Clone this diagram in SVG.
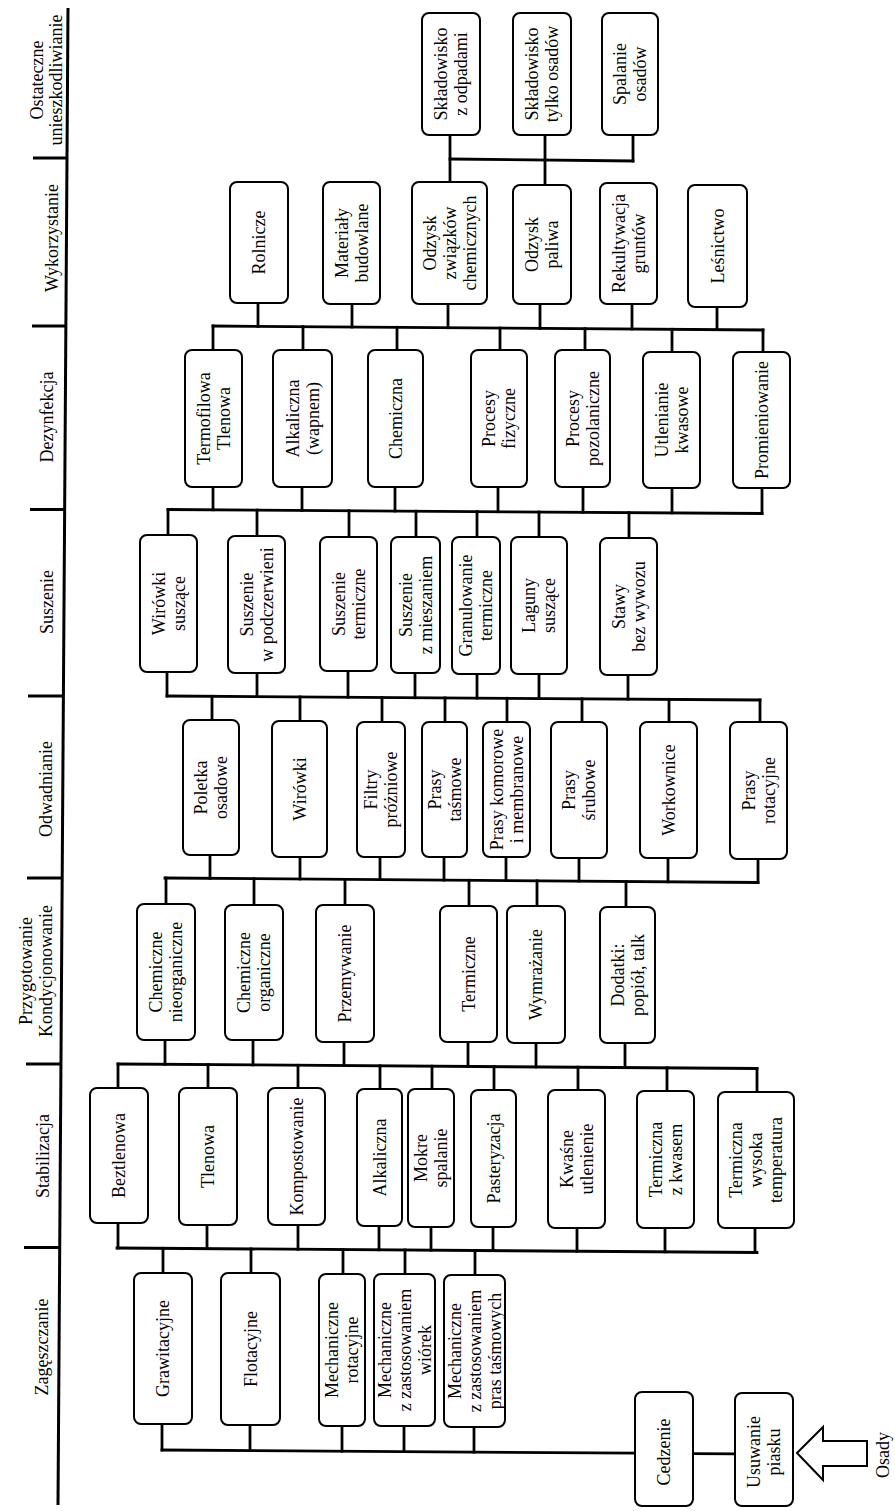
<svg xmlns="http://www.w3.org/2000/svg" width="895" height="1511" viewBox="0 0 895 1511">
<style>
.box{fill:#fff;stroke:#000;stroke-width:2}
.t{font-family:"Liberation Serif","Times New Roman",serif;font-size:18px;text-anchor:middle;fill:#000}
.c line{stroke:#000;stroke-width:2.8;stroke-linecap:square}
.ax line{stroke:#000;stroke-width:3;stroke-linecap:butt}
.arrow{fill:#fff;stroke:#000;stroke-width:2;stroke-linejoin:miter}
</style>
<rect width="895" height="1511" fill="#fff"/>
<g id="axis" class="ax">
<line x1="68" y1="8" x2="58" y2="1505"/>
<line x1="33" y1="158" x2="67" y2="158"/>
<line x1="32" y1="326" x2="66" y2="326"/>
<line x1="30" y1="509.5" x2="65" y2="509.5"/>
<line x1="28" y1="696" x2="63.5" y2="696"/>
<line x1="27" y1="878" x2="62.5" y2="878"/>
<line x1="26" y1="1064" x2="61" y2="1064"/>
<line x1="24" y1="1247.5" x2="60" y2="1247.5"/>
</g>
<g id="headers" class="t">
<text transform="translate(43 80) rotate(-90)"><tspan x="0" y="0">Ostateczne</tspan><tspan x="0" y="19">unieszkodliwianie</tspan></text>
<text transform="translate(58 238) rotate(-90)">Wykorzystanie</text>
<text transform="translate(53 417) rotate(-90)">Dezynfekcja</text>
<text transform="translate(53 602) rotate(-90)">Suszenie</text>
<text transform="translate(52 789) rotate(-90)">Odwadnianie</text>
<text transform="translate(32 971) rotate(-90)"><tspan x="0" y="0">Przygotowanie</tspan><tspan x="0" y="20">Kondycjonowanie</tspan></text>
<text transform="translate(49 1156) rotate(-90)">Stabilizacja</text>
<text transform="translate(48 1347) rotate(-90)">Zagęszczanie</text>
</g>
<g id="connectors" class="c">
<line x1="450" y1="159" x2="633" y2="161"/>
<line x1="450" y1="135" x2="450" y2="182"/>
<line x1="545" y1="135" x2="545" y2="185"/>
<line x1="633" y1="135" x2="633" y2="161"/>
<line x1="213" y1="326" x2="763" y2="330"/>
<line x1="258" y1="303" x2="258" y2="326.3"/>
<line x1="352" y1="304" x2="352" y2="327"/>
<line x1="448" y1="304" x2="448" y2="327.7"/>
<line x1="540" y1="304" x2="540" y2="328.4"/>
<line x1="632" y1="304" x2="632" y2="329"/>
<line x1="717" y1="307" x2="717" y2="329.6"/>
<line x1="213" y1="326" x2="213" y2="350"/>
<line x1="303" y1="326.6" x2="303" y2="350"/>
<line x1="397" y1="327.3" x2="397" y2="350"/>
<line x1="500" y1="328.1" x2="500" y2="350"/>
<line x1="585" y1="328.7" x2="585" y2="350"/>
<line x1="672" y1="329.3" x2="672" y2="352"/>
<line x1="763" y1="330" x2="763" y2="352"/>
<line x1="168" y1="509.5" x2="762" y2="513.5"/>
<line x1="213" y1="487" x2="213" y2="509.8"/>
<line x1="302" y1="487" x2="302" y2="510.4"/>
<line x1="395" y1="487" x2="395" y2="511"/>
<line x1="498" y1="487" x2="498" y2="511.7"/>
<line x1="583" y1="487" x2="583" y2="512.3"/>
<line x1="672" y1="488" x2="672" y2="512.9"/>
<line x1="762" y1="488" x2="762" y2="513.5"/>
<line x1="168" y1="509.5" x2="168" y2="535"/>
<line x1="257" y1="510.1" x2="257" y2="536"/>
<line x1="349" y1="510.7" x2="349" y2="537"/>
<line x1="416" y1="511.2" x2="416" y2="537"/>
<line x1="477" y1="511.6" x2="477" y2="537"/>
<line x1="539" y1="512" x2="539" y2="537"/>
<line x1="629" y1="512.6" x2="629" y2="538"/>
<line x1="167" y1="696" x2="760" y2="700"/>
<line x1="167" y1="672" x2="167" y2="696"/>
<line x1="257" y1="673" x2="257" y2="696.6"/>
<line x1="348" y1="671" x2="348" y2="697.2"/>
<line x1="415" y1="673" x2="415" y2="697.7"/>
<line x1="477" y1="674" x2="477" y2="698.1"/>
<line x1="539" y1="674" x2="539" y2="698.5"/>
<line x1="628" y1="675" x2="628" y2="699.1"/>
<line x1="212" y1="696.3" x2="212" y2="720"/>
<line x1="300" y1="696.9" x2="300" y2="721"/>
<line x1="382" y1="697.5" x2="382" y2="722"/>
<line x1="445" y1="697.9" x2="445" y2="722"/>
<line x1="507" y1="698.3" x2="507" y2="722"/>
<line x1="582" y1="698.8" x2="582" y2="722"/>
<line x1="669" y1="699.4" x2="669" y2="722"/>
<line x1="760" y1="700" x2="760" y2="722"/>
<line x1="165" y1="878" x2="758" y2="882.5"/>
<line x1="210" y1="855" x2="210" y2="878.3"/>
<line x1="300" y1="857" x2="300" y2="879"/>
<line x1="380" y1="857" x2="380" y2="879.6"/>
<line x1="444" y1="857" x2="444" y2="880.1"/>
<line x1="506" y1="857" x2="506" y2="880.6"/>
<line x1="579" y1="858" x2="579" y2="881.1"/>
<line x1="668" y1="858" x2="668" y2="881.8"/>
<line x1="758" y1="859" x2="758" y2="882.5"/>
<line x1="166" y1="878" x2="166" y2="904"/>
<line x1="254" y1="878.7" x2="254" y2="905"/>
<line x1="345" y1="879.4" x2="345" y2="905"/>
<line x1="469" y1="880.3" x2="469" y2="906"/>
<line x1="537" y1="880.8" x2="537" y2="906"/>
<line x1="626" y1="881.5" x2="626" y2="907"/>
<line x1="118" y1="1064" x2="757" y2="1068.5"/>
<line x1="165" y1="1040" x2="165" y2="1064.3"/>
<line x1="253" y1="1040" x2="253" y2="1064.9"/>
<line x1="344" y1="1042" x2="344" y2="1065.6"/>
<line x1="468" y1="1042" x2="468" y2="1066.5"/>
<line x1="536" y1="1043" x2="536" y2="1066.9"/>
<line x1="625" y1="1043" x2="625" y2="1067.5"/>
<line x1="118" y1="1064" x2="118" y2="1088"/>
<line x1="208" y1="1064.6" x2="208" y2="1088"/>
<line x1="298" y1="1065.3" x2="298" y2="1088"/>
<line x1="380" y1="1065.8" x2="380" y2="1089"/>
<line x1="432" y1="1066.2" x2="432" y2="1089"/>
<line x1="494" y1="1066.6" x2="494" y2="1090"/>
<line x1="578" y1="1067.2" x2="578" y2="1090"/>
<line x1="667" y1="1067.8" x2="667" y2="1091"/>
<line x1="757" y1="1068.5" x2="757" y2="1092"/>
<line x1="117" y1="1248" x2="757" y2="1252.5"/>
<line x1="118" y1="1223" x2="118" y2="1248"/>
<line x1="207" y1="1225" x2="207" y2="1248.6"/>
<line x1="298" y1="1225" x2="298" y2="1249.3"/>
<line x1="379" y1="1226" x2="379" y2="1249.8"/>
<line x1="431" y1="1227" x2="431" y2="1250.2"/>
<line x1="493" y1="1227" x2="493" y2="1250.6"/>
<line x1="577" y1="1228" x2="577" y2="1251.2"/>
<line x1="665" y1="1228" x2="665" y2="1251.8"/>
<line x1="755" y1="1228" x2="755" y2="1252.5"/>
<line x1="163" y1="1248.3" x2="163" y2="1273"/>
<line x1="251" y1="1248.9" x2="251" y2="1273"/>
<line x1="343" y1="1249.6" x2="343" y2="1274"/>
<line x1="405" y1="1250" x2="405" y2="1274"/>
<line x1="475" y1="1250.5" x2="475" y2="1275"/>
<line x1="162" y1="1450" x2="635" y2="1453.2"/>
<line x1="693" y1="1453.6" x2="735" y2="1453.9"/>
<line x1="162" y1="1424" x2="162" y2="1450"/>
<line x1="250" y1="1425" x2="250" y2="1450.6"/>
<line x1="342" y1="1426" x2="342" y2="1451.2"/>
<line x1="404" y1="1426" x2="404" y2="1451.6"/>
<line x1="474" y1="1427" x2="474" y2="1452.1"/>
</g>
<g id="nodes">
<g id="o1"><rect class="box" x="422" y="13" width="58" height="122" rx="7"/><text class="t" transform="translate(451 74) rotate(-90)"><tspan x="0" y="-3.75">Składowisko</tspan><tspan x="0" y="16.25">z odpadami</tspan></text></g>
<g id="o2"><rect class="box" x="513" y="13" width="58" height="122" rx="7"/><text class="t" transform="translate(542 74) rotate(-90)"><tspan x="0" y="-3.75">Składowisko</tspan><tspan x="0" y="16.25">tylko osadów</tspan></text></g>
<g id="o3"><rect class="box" x="602" y="13" width="56" height="122" rx="7"/><text class="t" transform="translate(630 74) rotate(-90)"><tspan x="0" y="-3.75">Spalanie</tspan><tspan x="0" y="16.25">osadów</tspan></text></g>

<g id="w1"><rect class="box" x="230" y="182" width="58" height="121" rx="7"/><text class="t" transform="translate(259 242.5) rotate(-90)"><tspan x="0" y="6.25">Rolnicze</tspan></text></g>
<g id="w2"><rect class="box" x="323" y="182" width="57" height="122" rx="7"/><text class="t" transform="translate(351.5 243) rotate(-90)"><tspan x="0" y="-3.75">Materiały</tspan><tspan x="0" y="16.25">budowlane</tspan></text></g>
<g id="w3"><rect class="box" x="412" y="182" width="75" height="122" rx="7"/><text class="t" transform="translate(449.5 243) rotate(-90)"><tspan x="0" y="-13.75">Odzysk</tspan><tspan x="0" y="6.25">związków</tspan><tspan x="0" y="26.25">chemicznych</tspan></text></g>
<g id="w4"><rect class="box" x="513" y="185" width="58" height="119" rx="7"/><text class="t" transform="translate(542 244.5) rotate(-90)"><tspan x="0" y="-3.75">Odzysk</tspan><tspan x="0" y="16.25">paliwa</tspan></text></g>
<g id="w5"><rect class="box" x="600" y="183" width="57" height="121" rx="7"/><text class="t" transform="translate(628.5 243.5) rotate(-90)"><tspan x="0" y="-3.75">Rekultywacja</tspan><tspan x="0" y="16.25">gruntów</tspan></text></g>
<g id="w6"><rect class="box" x="688" y="185" width="59" height="122" rx="7"/><text class="t" transform="translate(717.5 246) rotate(-90)"><tspan x="0" y="6.25">Leśnictwo</tspan></text></g>

<g id="d1"><rect class="box" x="185" y="350" width="57" height="137" rx="7"/><text class="t" transform="translate(213.5 418.5) rotate(-90)"><tspan x="0" y="-3.75">Termofilowa</tspan><tspan x="0" y="16.25">Tlenowa</tspan></text></g>
<g id="d2"><rect class="box" x="273" y="350" width="59" height="137" rx="7"/><text class="t" transform="translate(302.5 418.5) rotate(-90)"><tspan x="0" y="-3.75">Alkaliczna</tspan><tspan x="0" y="16.25">(wapnem)</tspan></text></g>
<g id="d3"><rect class="box" x="368" y="350" width="55" height="137" rx="7"/><text class="t" transform="translate(395.5 418.5) rotate(-90)"><tspan x="0" y="6.25">Chemiczna</tspan></text></g>
<g id="d4"><rect class="box" x="471" y="350" width="56" height="137" rx="7"/><text class="t" transform="translate(499 418.5) rotate(-90)"><tspan x="0" y="-3.75">Procesy</tspan><tspan x="0" y="16.25">fizyczne</tspan></text></g>
<g id="d5"><rect class="box" x="555" y="350" width="55" height="137" rx="7"/><text class="t" transform="translate(582.5 418.5) rotate(-90)"><tspan x="0" y="-3.75">Procesy</tspan><tspan x="0" y="16.25">pozolaniczne</tspan></text></g>
<g id="d6"><rect class="box" x="643" y="352" width="57" height="136" rx="7"/><text class="t" transform="translate(671.5 420) rotate(-90)"><tspan x="0" y="-3.75">Utlenianie</tspan><tspan x="0" y="16.25">kwasowe</tspan></text></g>
<g id="d7"><rect class="box" x="733" y="352" width="57" height="136" rx="7"/><text class="t" transform="translate(761.5 420) rotate(-90)"><tspan x="0" y="6.25">Promieniowanie</tspan></text></g>

<g id="s1"><rect class="box" x="140" y="535" width="57" height="137" rx="7"/><text class="t" transform="translate(168.5 603.5) rotate(-90)"><tspan x="0" y="-3.75">Wirówki</tspan><tspan x="0" y="16.25">suszące</tspan></text></g>
<g id="s2"><rect class="box" x="228" y="536" width="57" height="137" rx="7"/><text class="t" transform="translate(256.5 604.5) rotate(-90)"><tspan x="0" y="-3.75">Suszenie</tspan><tspan x="0" y="16.25">w podczerwieni</tspan></text></g>
<g id="s3"><rect class="box" x="320" y="537" width="57" height="134" rx="7"/><text class="t" transform="translate(348.5 604) rotate(-90)"><tspan x="0" y="-3.75">Suszenie</tspan><tspan x="0" y="16.25">termiczne</tspan></text></g>
<g id="s4"><rect class="box" x="391" y="537" width="49" height="136" rx="7"/><text class="t" transform="translate(415.5 605) rotate(-90)"><tspan x="0" y="-3.75">Suszenie</tspan><tspan x="0" y="16.25">z mieszaniem</tspan></text></g>
<g id="s5"><rect class="box" x="452" y="537" width="48" height="137" rx="7"/><text class="t" transform="translate(476 605.5) rotate(-90)"><tspan x="0" y="-3.75">Granulowanie</tspan><tspan x="0" y="16.25">termiczne</tspan></text></g>
<g id="s6"><rect class="box" x="511" y="537" width="56" height="137" rx="7"/><text class="t" transform="translate(539 605.5) rotate(-90)"><tspan x="0" y="-3.75">Laguny</tspan><tspan x="0" y="16.25">suszące</tspan></text></g>
<g id="s7"><rect class="box" x="600" y="538" width="57" height="137" rx="7"/><text class="t" transform="translate(628.5 606.5) rotate(-90)"><tspan x="0" y="-3.75">Stawy</tspan><tspan x="0" y="16.25">bez wywozu</tspan></text></g>

<g id="a1"><rect class="box" x="183" y="720" width="56" height="135" rx="7"/><text class="t" transform="translate(211 787.5) rotate(-90)"><tspan x="0" y="-3.75">Poletka</tspan><tspan x="0" y="16.25">osadowe</tspan></text></g>
<g id="a2"><rect class="box" x="272" y="721" width="55" height="136" rx="7"/><text class="t" transform="translate(299.5 789) rotate(-90)"><tspan x="0" y="6.25">Wirówki</tspan></text></g>
<g id="a3"><rect class="box" x="357" y="722" width="48" height="135" rx="7"/><text class="t" transform="translate(381 789.5) rotate(-90)"><tspan x="0" y="-3.75">Filtry</tspan><tspan x="0" y="16.25">próżniowe</tspan></text></g>
<g id="a4"><rect class="box" x="422" y="722" width="45" height="135" rx="7"/><text class="t" transform="translate(444.5 789.5) rotate(-90)"><tspan x="0" y="-3.75">Prasy</tspan><tspan x="0" y="16.25">taśmowe</tspan></text></g>
<g id="a5"><rect class="box" x="483" y="722" width="47" height="135" rx="7"/><text class="t" transform="translate(506.5 789.5) rotate(-90)"><tspan x="0" y="-3.75">Prasy komorowe</tspan><tspan x="0" y="16.25">i membranowe</tspan></text></g>
<g id="a6"><rect class="box" x="551" y="722" width="56" height="136" rx="7"/><text class="t" transform="translate(579 790) rotate(-90)"><tspan x="0" y="-3.75">Prasy</tspan><tspan x="0" y="16.25">śrubowe</tspan></text></g>
<g id="a7"><rect class="box" x="640" y="722" width="57" height="136" rx="7"/><text class="t" transform="translate(668.5 790) rotate(-90)"><tspan x="0" y="6.25">Workownice</tspan></text></g>
<g id="a8"><rect class="box" x="730" y="722" width="57" height="137" rx="7"/><text class="t" transform="translate(758.5 790.5) rotate(-90)"><tspan x="0" y="-3.75">Prasy</tspan><tspan x="0" y="16.25">rotacyjne</tspan></text></g>

<g id="p1"><rect class="box" x="137" y="904" width="58" height="136" rx="7"/><text class="t" transform="translate(166 972) rotate(-90)"><tspan x="0" y="-3.75">Chemiczne</tspan><tspan x="0" y="16.25">nieorganiczne</tspan></text></g>
<g id="p2"><rect class="box" x="225" y="905" width="58" height="135" rx="7"/><text class="t" transform="translate(254 972.5) rotate(-90)"><tspan x="0" y="-3.75">Chemiczne</tspan><tspan x="0" y="16.25">organiczne</tspan></text></g>
<g id="p3"><rect class="box" x="316" y="905" width="58" height="137" rx="7"/><text class="t" transform="translate(345 973.5) rotate(-90)"><tspan x="0" y="6.25">Przemywanie</tspan></text></g>
<g id="p4"><rect class="box" x="440" y="906" width="57" height="136" rx="7"/><text class="t" transform="translate(468.5 974) rotate(-90)"><tspan x="0" y="6.25">Termiczne</tspan></text></g>
<g id="p5"><rect class="box" x="507" y="906" width="58" height="137" rx="7"/><text class="t" transform="translate(536 974.5) rotate(-90)"><tspan x="0" y="6.25">Wymrażanie</tspan></text></g>
<g id="p6"><rect class="box" x="600" y="907" width="55" height="136" rx="7"/><text class="t" transform="translate(627.5 975) rotate(-90)"><tspan x="0" y="-3.75">Dodatki:</tspan><tspan x="0" y="16.25">popiół, talk</tspan></text></g>

<g id="b1"><rect class="box" x="90" y="1088" width="58" height="135" rx="7"/><text class="t" transform="translate(119 1155.5) rotate(-90)"><tspan x="0" y="6.25">Beztlenowa</tspan></text></g>
<g id="b2"><rect class="box" x="179" y="1088" width="58" height="137" rx="7"/><text class="t" transform="translate(208 1156.5) rotate(-90)"><tspan x="0" y="6.25">Tlenowa</tspan></text></g>
<g id="b3"><rect class="box" x="268" y="1088" width="57" height="137" rx="7"/><text class="t" transform="translate(296.5 1156.5) rotate(-90)"><tspan x="0" y="6.25">Kompostowanie</tspan></text></g>
<g id="b4"><rect class="box" x="357" y="1089" width="45" height="137" rx="7"/><text class="t" transform="translate(379.5 1157.5) rotate(-90)"><tspan x="0" y="6.25">Alkaliczna</tspan></text></g>
<g id="b5"><rect class="box" x="408" y="1089" width="46" height="138" rx="7"/><text class="t" transform="translate(431 1158) rotate(-90)"><tspan x="0" y="-3.75">Mokre</tspan><tspan x="0" y="16.25">spalanie</tspan></text></g>
<g id="b6"><rect class="box" x="471" y="1090" width="45" height="137" rx="7"/><text class="t" transform="translate(493.5 1158.5) rotate(-90)"><tspan x="0" y="6.25">Pasteryzacja</tspan></text></g>
<g id="b7"><rect class="box" x="548" y="1090" width="57" height="138" rx="7"/><text class="t" transform="translate(576.5 1159) rotate(-90)"><tspan x="0" y="-3.75">Kwaśne</tspan><tspan x="0" y="16.25">utlenienie</tspan></text></g>
<g id="b8"><rect class="box" x="637" y="1091" width="57" height="137" rx="7"/><text class="t" transform="translate(665.5 1159.5) rotate(-90)"><tspan x="0" y="-3.75">Termiczna</tspan><tspan x="0" y="16.25">z kwasem</tspan></text></g>
<g id="b9"><rect class="box" x="718" y="1092" width="76" height="136" rx="7"/><text class="t" transform="translate(756 1160) rotate(-90)"><tspan x="0" y="-13.75">Termiczna</tspan><tspan x="0" y="6.25">wysoka</tspan><tspan x="0" y="26.25">temperatura</tspan></text></g>

<g id="z1"><rect class="box" x="134" y="1273" width="58" height="151" rx="7"/><text class="t" transform="translate(163 1348.5) rotate(-90)"><tspan x="0" y="6.25">Grawitacyjne</tspan></text></g>
<g id="z2"><rect class="box" x="221" y="1273" width="59" height="152" rx="7"/><text class="t" transform="translate(250.5 1349) rotate(-90)"><tspan x="0" y="6.25">Flotacyjne</tspan></text></g>
<g id="z3"><rect class="box" x="319" y="1274" width="46" height="152" rx="7"/><text class="t" transform="translate(342 1350) rotate(-90)"><tspan x="0" y="-3.75">Mechaniczne</tspan><tspan x="0" y="16.25">rotacyjne</tspan></text></g>
<g id="z4"><rect class="box" x="374" y="1274" width="61" height="152" rx="7"/><text class="t" transform="translate(404.5 1350) rotate(-90)"><tspan x="0" y="-13.75">Mechaniczne</tspan><tspan x="0" y="6.25">z zastosowaniem</tspan><tspan x="0" y="26.25">wiórek</tspan></text></g>
<g id="z5"><rect class="box" x="444" y="1275" width="61" height="152" rx="7"/><text class="t" transform="translate(474.5 1351) rotate(-90)"><tspan x="0" y="-13.75">Mechaniczne</tspan><tspan x="0" y="6.25">z zastosowaniem</tspan><tspan x="0" y="26.25">pras taśmowych</tspan></text></g>

<g id="e1"><rect class="box" x="635" y="1392" width="58" height="114" rx="7"/><text class="t" transform="translate(664 1452) rotate(-90)"><tspan x="0" y="6.25">Cedzenie</tspan></text></g>
<g id="e2"><rect class="box" x="735" y="1393" width="58" height="113" rx="7"/><text class="t" transform="translate(764 1452) rotate(-90)"><tspan x="0" y="-3.75">Usuwanie</tspan><tspan x="0" y="16.25">piasku</tspan></text></g>
<g id="input"><polygon class="arrow" points="797,1453 823,1427 823,1441 867,1441 867,1466 823,1466 823,1480"/><text class="t" transform="translate(889 1455) rotate(-90)">Osady</text></g>
</g>
</svg>
